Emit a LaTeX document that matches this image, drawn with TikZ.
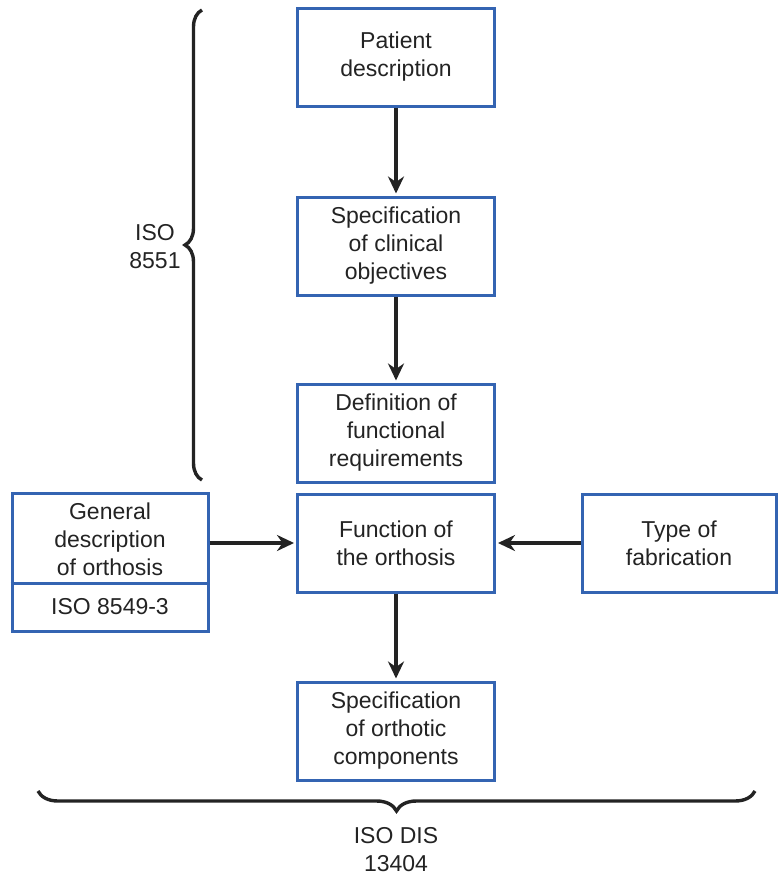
\documentclass[tikz,border=0pt]{standalone}
\usepackage{fontspec}
\setmainfont{Liberation Sans}
\usetikzlibrary{arrows.meta,decorations.pathreplacing}
\definecolor{boxblue}{RGB}{52,100,178}
\definecolor{ink}{RGB}{35,35,35}
\begin{document}
\begin{tikzpicture}[x=1pt,y=-1pt,
  every node/.style={font=\fontsize{23}{28}\selectfont, text=ink, align=center, inner sep=0pt},
  flowbox/.style={draw=boxblue, line width=3pt, minimum width=197pt, minimum height=98pt},
  flowarrow/.style={draw=ink, line width=3.2pt, -{Stealth[length=17pt,width=16pt]}, shorten >=2pt},
  bracestyle/.style={draw=ink, line width=3.4pt, decorate}
]
\useasboundingbox (0,0) rectangle (777,878);
\node[flowbox] (pat) at (396,57) {Patient\\description};
\node[flowbox] (spec) at (396,246) {Specification\\of clinical\\objectives};
\node[flowbox] (def) at (396,433) {Definition of\\functional\\requirements};
\node[flowbox] (fun) at (396,543) {Function of\\the orthosis};
\node[flowbox] (comp) at (396,731) {Specification\\of orthotic\\components};
\node[flowbox, minimum width=194pt] (fab) at (679,543) {Type of\\fabrication};
\node[flowbox, minimum width=196pt, minimum height=138pt] (genbox) at (110,562) {};
\node (gen) at (110,539) {General\\description\\of orthosis};
\node (iso) at (110,607) {ISO 8549-3};
\draw[draw=boxblue, line width=3pt] (genbox.west |- 0,583) -- (genbox.east |- 0,583);
\draw[flowarrow] (genbox.east |- fun) -- (fun);
\draw[flowarrow] (pat) -- (spec);
\draw[flowarrow] (spec) -- (def);
\draw[flowarrow] (fun) -- (comp);
\draw[flowarrow] (fab) -- (fun);
\coordinate (lb1) at (202,480);
\coordinate (lb2) at (202,10);
\draw[bracestyle, decoration={brace, amplitude=17pt}] (lb1) -- (lb2);
\node (iso1) at (155,247) {ISO\\8551};
\coordinate (bb1) at (755,791);
\coordinate (bb2) at (38,791);
\draw[bracestyle, decoration={brace, amplitude=20pt}] (bb1) -- (bb2);
\node (iso2) at (396,850) {ISO DIS\\13404};
\end{tikzpicture}
\end{document}
